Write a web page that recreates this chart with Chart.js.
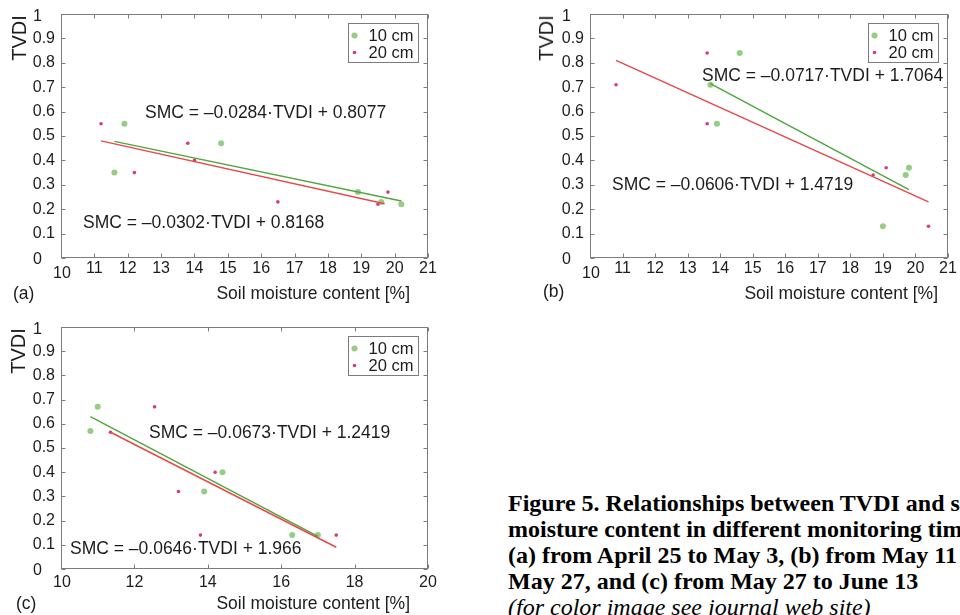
<!DOCTYPE html>
<html lang="en">
<head>
  <meta charset="UTF-8" />
  <title>TVDI vs soil moisture content</title>
  <script src="https://cdn.jsdelivr.net/npm/chart.js"></script>
  <style>
    body {
      margin: 0;
      width: 960px;
      height: 615px;
      overflow: hidden;
      position: relative;
      background: #fff;
      color: #1c1c1c;
      font-family: 'Liberation Sans', Arial, sans-serif;
    }
    .panel { position: absolute; }
    .txt { position: absolute; white-space: nowrap; line-height: 20px; }
    .eq { font-size: 17.5px; }
    .xtitle { font-size: 17.5px; text-align: right; }
    .tag { font-size: 17.5px; }
    .ytitle {
      font-size: 20px;
      transform: translate(-50%, -50%) rotate(-90deg);
    }
    .caption {
      position: absolute;
      left: 508px;
      top: 490px;
      font-family: 'Liberation Serif', 'Times New Roman', serif;
      font-weight: bold;
      font-size: 24px;
      line-height: 26px;
      white-space: nowrap;
      color: #000;
    }
    .caption i { font-weight: normal; }
  </style>
</head>
<body>
  <div class="panel" style="left:0;top:0;width:440px;height:290px"><canvas id="chartA"></canvas></div>
  <div class="panel" style="left:529px;top:0;width:431px;height:290px"><canvas id="chartB"></canvas></div>
  <div class="panel" style="left:0;top:313px;width:440px;height:290px"><canvas id="chartC"></canvas></div>

  <!-- axis titles and panel tags -->
  <div class="txt ytitle" style="left:19px;top:38px">TVDI</div>
  <div class="txt ytitle" style="left:546px;top:38px">TVDI</div>
  <div class="txt ytitle" style="left:18px;top:351px">TVDI</div>

  <div class="txt xtitle" style="right:550px;top:283px">Soil moisture content [%]</div>
  <div class="txt xtitle" style="right:22px;top:283px">Soil moisture content [%]</div>
  <div class="txt xtitle" style="right:550px;top:593px">Soil moisture content [%]</div>

  <div class="txt tag" style="left:13px;top:283px">(a)</div>
  <div class="txt tag" style="left:543px;top:281px">(b)</div>
  <div class="txt tag" style="left:16px;top:593px">(c)</div>

  <!-- fitted equations -->
  <div class="txt eq" style="left:145px;top:102px">SMC = –0.0284·TVDI + 0.8077</div>
  <div class="txt eq" style="left:83px;top:212px">SMC = –0.0302·TVDI + 0.8168</div>
  <div class="txt eq" style="left:702px;top:65px">SMC = –0.0717·TVDI + 1.7064</div>
  <div class="txt eq" style="left:612px;top:174px">SMC = –0.0606·TVDI + 1.4719</div>
  <div class="txt eq" style="left:149px;top:422px">SMC = –0.0673·TVDI + 1.2419</div>
  <div class="txt eq" style="left:70px;top:538px">SMC = –0.0646·TVDI + 1.966</div>

  <div class="caption">
    Figure 5. Relationships between TVDI and soil<br>
    moisture content in different monitoring times:<br>
    (a) from April 25 to May 3, (b) from May 11 to<br>
    May 27, and (c) from May 27 to June 13<br>
    <i>(for color image see journal web site)</i>
  </div>

  <script>
    // series names
    const seriesNames = ['10 cm', '20 cm'];

    // tick values / labels
    const xTicksAB = [10, 11, 12, 13, 14, 15, 16, 17, 18, 19, 20, 21];
    const xTicksC = [10, 12, 14, 16, 18, 20];
    const yTicks = [0, 0.1, 0.2, 0.3, 0.4, 0.5, 0.6, 0.7, 0.8, 0.9, 1];
    const yTickLabels = ['0', '0.1', '0.2', '0.3', '0.4', '0.5', '0.6', '0.7', '0.8', '0.9', '1'];

    // (a) April 25 - May 3
    const smcA10 = [11.6, 11.9, 14.8, 18.9, 19.6, 20.2];
    const tvdiA10 = [0.35, 0.55, 0.47, 0.27, 0.23, 0.22];
    const smcA20 = [11.2, 12.2, 13.8, 14.0, 16.5, 19.5, 19.8];
    const tvdiA20 = [0.55, 0.35, 0.47, 0.40, 0.23, 0.22, 0.27];
    const fitSmcA10 = [11.6, 20.2];
    const fitTvdiA10 = [0.478, 0.234];
    const fitSmcA20 = [11.2, 19.7];
    const fitTvdiA20 = [0.480, 0.222];

    // (b) May 11 - May 27
    const smcB10 = [13.7, 13.9, 14.6, 19.0, 19.7, 19.8];
    const tvdiB10 = [0.71, 0.55, 0.84, 0.13, 0.34, 0.37];
    const smcB20 = [10.8, 13.6, 13.6, 18.7, 19.1, 20.4];
    const tvdiB20 = [0.71, 0.84, 0.55, 0.34, 0.37, 0.13];
    const fitSmcB10 = [13.7, 19.8];
    const fitTvdiB10 = [0.715, 0.28];
    const fitSmcB20 = [10.8, 20.4];
    const fitTvdiB20 = [0.81, 0.23];

    // (c) May 27 - June 13
    const smcC10 = [10.8, 11.0, 13.9, 14.4, 16.3, 17.0];
    const tvdiC10 = [0.57, 0.67, 0.32, 0.40, 0.14, 0.14];
    const smcC20 = [11.35, 12.55, 13.2, 13.8, 14.2, 17.5];
    const tvdiC20 = [0.565, 0.67, 0.32, 0.14, 0.40, 0.14];
    const fitSmcC10 = [10.8, 17.0];
    const fitTvdiC10 = [0.63, 0.135];
    const fitSmcC20 = [11.35, 17.5];
    const fitTvdiC20 = [0.565, 0.09];

    const green = 'rgba(130,196,112,0.85)';
    const red = '#d93a6c';
    const greenLine = '#4fa83f';
    const redLine = '#e6484c';
    const labelFont = "16px 'Liberation Sans', Arial, sans-serif";

    const pts = (xs, ys) => xs.map((x, i) => ({ x: x, y: ys[i] }));

    // matlab-like box: inward ticks on all sides, tick labels, legend inside the box
    const boxPlugin = {
      id: 'boxTicks',
      afterDraw(chart, args, opts) {
        const { ctx, chartArea: a, scales } = chart;
        const len = 4;
        ctx.save();
        ctx.strokeStyle = '#7c7c7c';
        ctx.lineWidth = 1;
        const L = Math.round(a.left) + 0.5, R = Math.round(a.right) - 0.5;
        const T = Math.round(a.top) + 0.5, B = Math.round(a.bottom) - 0.5;
        ctx.strokeRect(L, T, R - L, B - T);
        ctx.beginPath();
        scales.x.ticks.forEach(t => {
          const px = Math.round(scales.x.getPixelForValue(t.value)) + 0.5;
          ctx.moveTo(px, B); ctx.lineTo(px, B - len);
          ctx.moveTo(px, T); ctx.lineTo(px, T + len);
        });
        scales.y.ticks.forEach(t => {
          const py = Math.round(scales.y.getPixelForValue(t.value)) + 0.5;
          ctx.moveTo(L, py); ctx.lineTo(L + len, py);
          ctx.moveTo(R, py); ctx.lineTo(R - len, py);
        });
        ctx.stroke();

        // tick labels
        ctx.font = labelFont;
        ctx.fillStyle = '#1c1c1c';
        ctx.textBaseline = 'middle';
        ctx.textAlign = 'center';
        scales.x.ticks.forEach((t, i) => {
          const px = scales.x.getPixelForValue(t.value);
          const dy = i === 0 ? opts.firstDy : opts.xLabelDy;
          ctx.fillText(String(t.value), px + (i === 0 ? 1 : 0), a.bottom + dy);
        });
        const last = scales.y.ticks.length - 1;
        scales.y.ticks.forEach((t, i) => {
          const py = scales.y.getPixelForValue(t.value);
          if (i === 0 || i === last) {
            ctx.textAlign = 'left';
            ctx.fillText(yTickLabels[i], a.left - 28, py + (i === 0 ? 2 : 3));
          } else {
            ctx.textAlign = 'right';
            ctx.fillText(yTickLabels[i], a.left - 6, py);
          }
        });

        // legend
        const items = chart.data.datasets.filter(d => d.inLegend);
        const bw = 70, bh = 39;
        const bx = Math.round(a.right - 10 - bw) + 0.5;
        const by = Math.round(a.top + 9) + 0.5;
        ctx.fillStyle = '#fff';
        ctx.fillRect(bx, by, bw, bh);
        ctx.strokeRect(bx, by, bw, bh);
        ctx.font = "16.5px 'Liberation Sans', Arial, sans-serif";
        ctx.textAlign = 'left';
        items.forEach((d, i) => {
          const cy = by + 12 + i * 17;
          ctx.fillStyle = d.pointBackgroundColor;
          ctx.beginPath();
          ctx.arc(bx + 6, cy, d.pointRadius, 0, Math.PI * 2);
          ctx.fill();
          ctx.fillStyle = '#1c1c1c';
          ctx.fillText(d.label, bx + 20, cy + 1);
        });
        ctx.restore();
      }
    };

    function makePanel(id, xTicks, xMax, xAxisH, labelDy, s10, t10, s20, t20, fs10, ft10, fs20, ft20) {
      new Chart(document.getElementById(id), {
        type: 'scatter',
        data: {
          datasets: [
            { label: 'fit 20', data: pts(fs20, ft20), showLine: true, borderColor: redLine, borderWidth: 1.5, pointRadius: 0 },
            { label: 'fit 10', data: pts(fs10, ft10), showLine: true, borderColor: greenLine, borderWidth: 1.5, pointRadius: 0 },
            { label: seriesNames[0], inLegend: true, data: pts(s10, t10), pointBackgroundColor: green, pointBorderWidth: 0, pointRadius: 3 },
            { label: seriesNames[1], inLegend: true, data: pts(s20, t20), pointBackgroundColor: red, pointBorderWidth: 0, pointRadius: 1.8 }
          ]
        },
        options: {
          responsive: true,
          maintainAspectRatio: false,
          animation: false,
          events: [],
          layout: { padding: { top: 14, right: 12, left: 0, bottom: 0 } },
          plugins: {
            legend: { display: false },
            tooltip: { enabled: false },
            boxTicks: { xLabelDy: labelDy[0], firstDy: labelDy[1] }
          },
          scales: {
            x: {
              type: 'linear', min: 10, max: xMax,
              afterBuildTicks: s => { s.ticks = xTicks.map(v => ({ value: v })); },
              afterFit: s => { s.height = xAxisH; },
              ticks: { display: false },
              grid: { display: false, drawTicks: false },
              border: { display: false }
            },
            y: {
              type: 'linear', min: 0, max: 1,
              afterBuildTicks: s => { s.ticks = yTicks.map(v => ({ value: v })); },
              afterFit: s => { s.width = 61; },
              ticks: { display: false },
              grid: { display: false, drawTicks: false },
              border: { display: false }
            }
          }
        },
        plugins: [boxPlugin]
      });
    }

    makePanel('chartA', xTicksAB, 21, 32, [10.5, 16], smcA10, tvdiA10, smcA20, tvdiA20, fitSmcA10, fitTvdiA10, fitSmcA20, fitTvdiA20);
    makePanel('chartB', xTicksAB, 21, 32, [11, 16], smcB10, tvdiB10, smcB20, tvdiB20, fitSmcB10, fitTvdiB10, fitSmcB20, fitTvdiB20);
    makePanel('chartC', xTicksC, 20, 34, [14, 14], smcC10, tvdiC10, smcC20, tvdiC20, fitSmcC10, fitTvdiC10, fitSmcC20, fitTvdiC20);
  </script>
</body>
</html>
